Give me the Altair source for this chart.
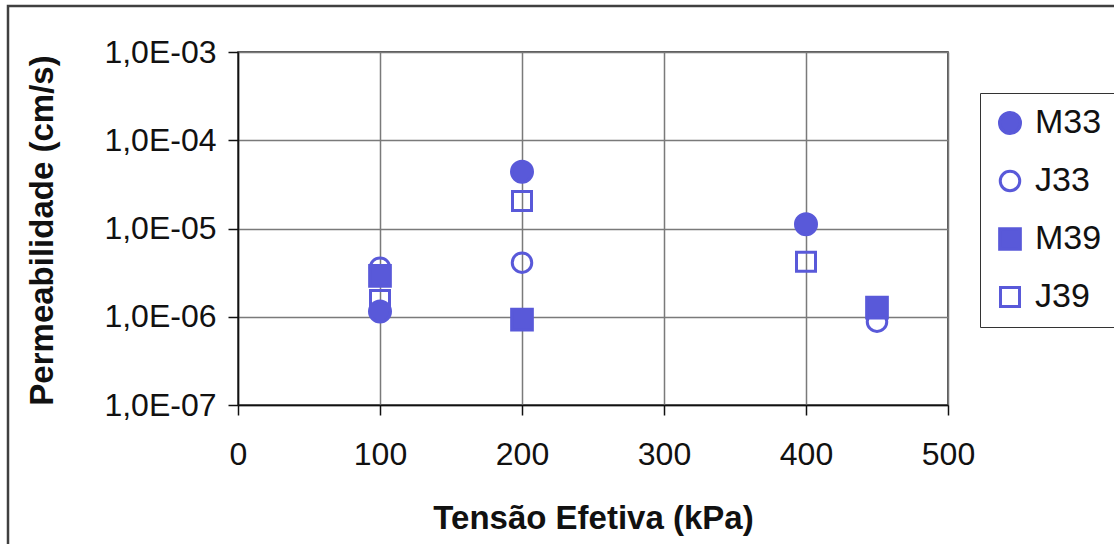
import altair as alt
import pandas as pd

# ---- data ----
series = ["M33", "J33", "M39", "J39"]
m33_x = [100, 200, 400]
m33_y = [1.15e-6, 4.4e-5, 1.12e-5]
j33_x = [100, 200, 450]
j33_y = [3.6e-6, 4.1e-6, 8.8e-7]
m39_x = [100, 200, 450]
m39_y = [2.9e-6, 9.3e-7, 1.27e-6]
j39_x = [100, 200, 400]
j39_y = [1.55e-6, 2.05e-5, 4.2e-6]
x_ticks = [0, 100, 200, 300, 400, 500]
y_ticks = [1e-7, 1e-6, 1e-5, 1e-4, 1e-3]

rows = []
for name, xs, ys in [("M33", m33_x, m33_y), ("J33", j33_x, j33_y),
                     ("M39", m39_x, m39_y), ("J39", j39_x, j39_y)]:
    for xv, yv in zip(xs, ys):
        rows.append({"serie": name, "tensao": xv, "perm": yv})
df = pd.DataFrame(rows)

COLOR = "#5959d9"
FONT = "Liberation Sans"

points = alt.Chart(df).mark_point(
    stroke=COLOR, strokeWidth=3, fillOpacity=1, opacity=1
).encode(
    x=alt.X("tensao:Q",
            scale=alt.Scale(domain=[0, 500], nice=False, zero=False),
            axis=alt.Axis(values=x_ticks, format="d", title="Tensão Efetiva (kPa)",
                          titleX=355, titleY=113, titleBaseline="middle",
                          titleAlign="center", labelPadding=24, labelFlush=False)),
    y=alt.Y("perm:Q",
            scale=alt.Scale(type="log", domain=[1e-7, 1e-3], nice=False),
            axis=alt.Axis(values=y_ticks,
                          labelExpr="'1,0E-0' + round(-log(datum.value)/LN10)",
                          title="Permeabilidade (cm/s)",
                          titleX=-196, titleY=178, titleAngle=270,
                          titleBaseline="middle", titleAlign="center",
                          labelPadding=12, labelFlush=False)),
    shape=alt.Shape("serie:N", scale=alt.Scale(domain=series,
                    range=["circle", "circle", "square", "square"]),
                    legend=alt.Legend(title=None, orient="none", legendX=742, legendY=41,
                                      padding=13, labelFontSize=34, labelFont=FONT,
                                      labelColor="#111", rowPadding=24, labelOffset=8,
                                      strokeColor="#333", symbolStrokeColor=COLOR,
                                      symbolStrokeWidth=3, symbolOpacity=1)),
    fill=alt.Fill("serie:N", scale=alt.Scale(domain=series,
                  range=[COLOR, "transparent", COLOR, "transparent"]), legend=alt.Legend(title=None)),
    size=alt.Size("serie:N", scale=alt.Scale(type="ordinal", domain=series,
                  range=[441, 380, 428, 361]), legend=alt.Legend(title=None)),
)

border_df = pd.DataFrame({"k": [0]})
border = alt.Chart(border_df).mark_rect(
    fill="transparent", stroke="#404040", strokeWidth=2.5
).encode(
    x=alt.value(-230), x2=alt.value(884),
    y=alt.value(-46), y2=alt.value(500),
)

chart = alt.layer(border, points).properties(
    width=710, height=353,
    autosize=alt.AutoSizeParams(type="none"),
    padding={"left": 238, "top": 52, "right": 166, "bottom": 139},
    background="white",
).configure_view(
    stroke="#222", strokeWidth=1.5
).configure_axis(
    labelFont=FONT, labelFontSize=32, labelColor="#111",
    titleFont=FONT, titleFontSize=33, titleFontWeight="bold", titleColor="#111",
    domainColor="#111", domainWidth=1.5,
    tickColor="#111", tickWidth=1.5, tickSize=10,
    gridColor="#7a7a7a", gridWidth=1.5, gridOpacity=1,
)

chart.save("out.html", embed_options={"renderer": "svg", "actions": False})
